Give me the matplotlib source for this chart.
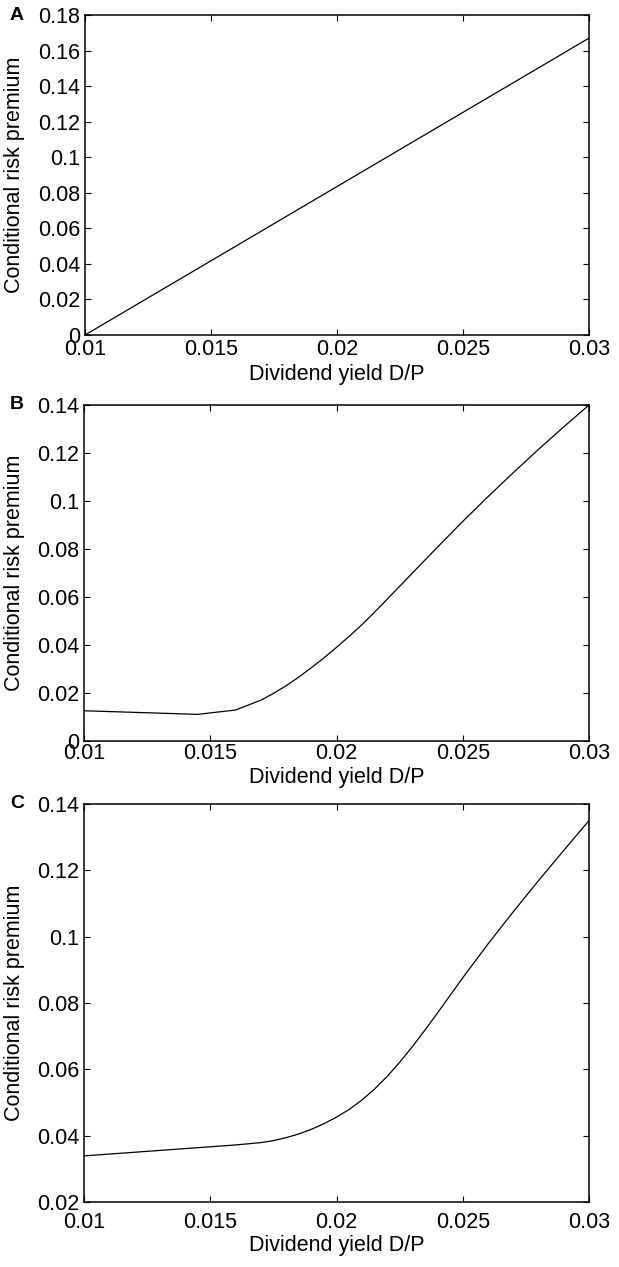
import matplotlib
matplotlib.use("Agg")
import matplotlib.pyplot as plt
from matplotlib.ticker import FuncFormatter

plt.rcParams['font.family'] = ['Liberation Sans', 'DejaVu Sans']

# ---- data ----
xA = [0.01, 0.03]
yA = [0.0, 0.167]

xB = [0.0100, 0.0145, 0.0160, 0.0170, 0.0175, 0.0180, 0.0185, 0.0190, 0.0195,
      0.0200, 0.0205, 0.0210, 0.0215, 0.0220, 0.0230, 0.0240, 0.0250, 0.0260,
      0.0270, 0.0280, 0.0290, 0.0300]
yB = [0.0126, 0.0111, 0.0129, 0.0170, 0.0198, 0.0230, 0.0266, 0.0305, 0.0346,
      0.0390, 0.0436, 0.0484, 0.0536, 0.0590, 0.0699, 0.0808, 0.0915, 0.1018,
      0.1118, 0.1215, 0.1309, 0.1400]

xC = [0.0100, 0.0120, 0.0140, 0.0160, 0.0170, 0.0175, 0.0180, 0.0185, 0.0190,
      0.0195, 0.0200, 0.0205, 0.0210, 0.0215, 0.0220, 0.0225, 0.0230, 0.0235,
      0.0240, 0.0245, 0.0250, 0.0260, 0.0270, 0.0280, 0.0290, 0.0300]
yC = [0.0339, 0.0350, 0.0361, 0.0372, 0.0379, 0.0385, 0.0394, 0.0405, 0.0419,
      0.0436, 0.0456, 0.0479, 0.0507, 0.0540, 0.0578, 0.0621, 0.0668, 0.0718,
      0.0770, 0.0823, 0.0876, 0.0978, 0.1075, 0.1169, 0.1260, 0.1350]

x_ticks = [0.01, 0.015, 0.02, 0.025, 0.03]
yticks_A = [0, 0.02, 0.04, 0.06, 0.08, 0.10, 0.12, 0.14, 0.16, 0.18]
yticks_B = [0, 0.02, 0.04, 0.06, 0.08, 0.10, 0.12, 0.14]
yticks_C = [0.02, 0.04, 0.06, 0.08, 0.10, 0.12, 0.14]
panel_letters = ['A', 'B', 'C']
xlabel = 'Dividend yield D/P'
ylabel = 'Conditional risk premium'

W, H = 619, 1267
fig = plt.figure(figsize=(W / 100, H / 100), dpi=100)

# axes boxes in pixels: (left, top, right, bottom)
boxes = [(85, 15, 589, 335), (84, 405, 589, 741), (84, 804, 589, 1202)]
xpads = [3.0, 1.5, 7.5]          # x tick label pad (pt)
xlabel_y = [375, 777, 1246]      # x label centre (px from top)
datasets = [(xA, yA, yticks_A), (xB, yB, yticks_B), (xC, yC, yticks_C)]

fmt = FuncFormatter(lambda v, p: ('%g' % round(v, 4)))
FS = 15.5

for (l, t, r, b), (xs, ys, yt), letter, xp, xly in zip(
        boxes, datasets, panel_letters, xpads, xlabel_y):
    ax = fig.add_axes([l / W, 1 - b / H, (r - l) / W, (b - t) / H])
    ax.plot(xs, ys, color='black', lw=0.9)
    ax.set_xlim(0.01, 0.03)
    ax.set_ylim(yt[0], yt[-1])
    ax.set_xticks(x_ticks)
    ax.set_yticks(yt)
    ax.xaxis.set_major_formatter(fmt)
    ax.yaxis.set_major_formatter(fmt)
    ax.tick_params(direction='in', length=4, width=0.8, labelsize=FS,
                   top=True, right=True, colors='black')
    ax.tick_params(axis='x', pad=xp)
    ax.tick_params(axis='y', pad=3.5)
    for s in ax.spines.values():
        s.set_linewidth(1.1)
        s.set_color('black')
    fig.text((l + r) / 2 / W, 1 - xly / H, xlabel, fontsize=FS,
             ha='center', va='center')
    fig.text(15 / W, 1 - (t + b) / 2 / H, ylabel, fontsize=FS,
             rotation=90, ha='center', va='center')
    fig.text(17 / W, 1 - t / H, letter, fontsize=14, fontweight='bold',
             ha='center', va='center')

fig.savefig('out.png', dpi=100)
